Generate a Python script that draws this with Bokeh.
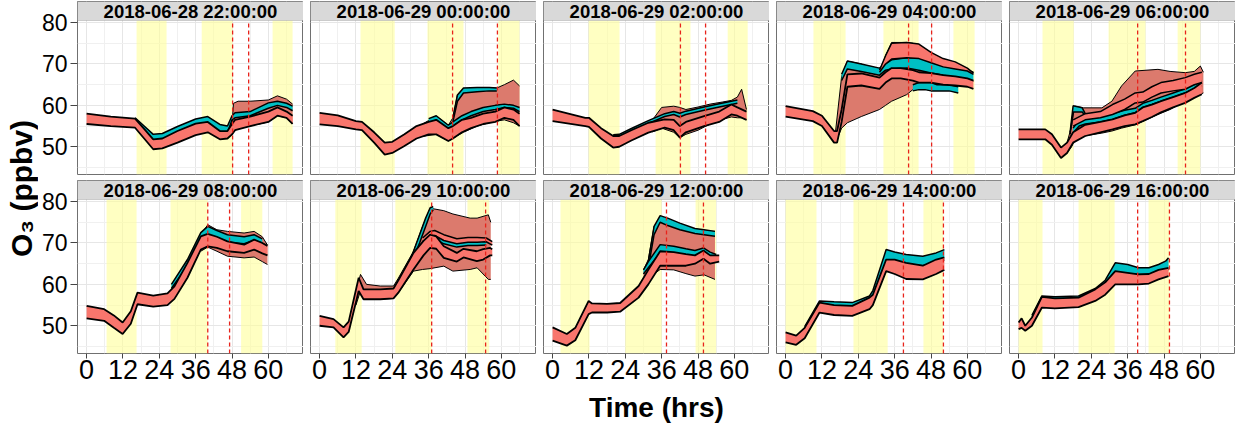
import numpy as np
from bokeh.plotting import figure
from bokeh.models import Range1d, FixedTicker, BoxAnnotation, Label
from bokeh.layouts import row, column
from bokeh.core.properties import value
from bokeh.embed import file_html
from bokeh.resources import INLINE

# ---------------- data ----------------
TITLES = ["2018-06-28 22:00:00", "2018-06-29 00:00:00", "2018-06-29 02:00:00",
          "2018-06-29 04:00:00", "2018-06-29 06:00:00", "2018-06-29 08:00:00",
          "2018-06-29 10:00:00", "2018-06-29 12:00:00", "2018-06-29 14:00:00",
          "2018-06-29 16:00:00"]

X_TICKS = [0, 12, 24, 36, 48, 60]
X_MINOR = [6, 18, 30, 42, 54, 66]
Y_TICKS = [50, 60, 70, 80]
Y_MINOR = [45, 55, 65, 75]

# shaded (yellow) intervals, hours
SHADE_START = [[16.5, 38, 61.4], [13.5, 35.6, 59], [11.9, 34, 57.8], [9.2, 32.3, 55.4],
               [7.9, 29.7, 52.5], [6.6, 27.7, 51], [5.2, 25, 48.8], [2.6, 24, 47.2],
               [0, 22.4, 45.5], [0, 19.8, 42.9]]
SHADE_END = [[26.4, 48.2, 68], [24.8, 47.5, 66], [22.1, 45.5, 64.4], [19.8, 43.9, 62.4],
             [18.2, 41.9, 60], [16.5, 40, 58], [13.9, 37, 56], [12.2, 36, 54],
             [10.2, 33.7, 52], [7.9, 31.7, 49.8]]

# red dashed markers, hours
DASH_X = [[48.2, 53.5], [43.9, 58.7], [42.2, 50.5], [40.6, 48.2], [39.3, 55.1],
          [40, 47.2], [37, 54.8], [37.6, 49.8], [38.9, 52.1], [39.3, 49.8]]

# main salmon band
SAL_X = [
    [0, 8, 16, 19, 22, 25, 30, 36, 40, 44, 46.5, 48, 49, 54, 60, 63, 66, 68],
    [0, 6, 12, 14, 18, 21.5, 24, 28, 32, 36, 38.5, 42.5, 44, 47, 50, 54, 58, 61, 64, 66],
    [0, 10.8, 12, 16, 20, 22, 26, 31.6, 37, 40, 42, 44, 50, 55, 59, 61, 64],
    [0, 9, 12, 16, 17, 18.5, 20.4, 25, 31, 33, 35, 38, 42, 44, 48, 52, 56, 60, 62],
    [0, 8.8, 11, 14, 16, 18, 22, 27, 31, 35, 38.5, 41, 44, 47, 51, 55, 58, 60.5],
    [0, 5.8, 9, 11.9, 14.6, 16.8, 22, 26.7, 29, 33.3, 37.7, 40, 43, 46.5, 52, 55.3, 58, 59.7],
    [0, 4.6, 7.9, 9.6, 12.9, 14.5, 20, 24.4, 26, 31, 34.3, 36.5, 38.5, 41, 45.3, 47.5, 51.9, 54, 56.3, 57],
    [0, 4.7, 7.5, 11.9, 13, 18, 22.3, 28.4, 31.6, 35.5, 40, 44, 47, 49.8, 52, 55],
    [0, 3.5, 6.3, 11.2, 16, 22, 27.7, 28.8, 33.2, 36, 39.8, 45.3, 49.7, 52.4],
    [0, 1, 2.2, 4.4, 7.7, 12, 19.8, 25.3, 28.6, 31.9, 36, 39.6, 43, 46.2, 49.5],
]
SAL_LO = [
    [55.5, 55, 54.6, 52, 49.4, 49.6, 51, 52.8, 53.5, 51.8, 52, 53, 54, 55, 56, 57.5, 57, 55.5],
    [55.4, 55, 54.2, 54, 51, 48.1, 48.5, 50.2, 52, 53, 53, 51.4, 52, 53.5, 54.5, 55.5, 56, 57, 56.5, 55],
    [56.2, 55, 54.8, 52, 49.8, 50, 51.5, 53.4, 54.6, 54, 52.2, 53.5, 55, 56, 57.8, 57.5, 56.5],
    [57.3, 56.2, 55, 51, 51, 56, 64.5, 64.8, 64, 65.5, 66.5, 66.5, 66, 65.5, 65.5, 65, 64.8, 64.5, 64],
    [51.8, 51.8, 50.5, 47.3, 48.5, 51, 52.6, 53.5, 54.2, 55, 55.4, 56.2, 57.2, 58.3, 59.5, 60.6, 61.8, 62.7],
    [51.8, 51.2, 49.5, 48, 50.5, 55.2, 54.6, 55, 56.5, 61.6, 68.4, 69.2, 68.8, 68, 67.6, 68.4, 67.5, 67],
    [50, 49.6, 47.2, 48.5, 58.4, 56.4, 56.4, 56.6, 58, 63.6, 67, 68.8, 68.6, 66.4, 65.5, 66.5, 65.6, 66, 67, 67],
    [46.4, 45.2, 46.5, 52.8, 53.2, 53.2, 53.4, 56.8, 60, 64.5, 64.5, 64.5, 65, 66.2, 65, 65.5],
    [46, 45.4, 47, 53.2, 52.6, 52.4, 54, 55, 63.2, 62.5, 61.3, 61.2, 62.5, 63.5],
    [49.2, 49.5, 48.8, 50, 54.4, 54.2, 54.5, 56, 57.5, 60, 60, 60, 60.2, 61.2, 62],
]
SAL_HI = [
    [58, 57.3, 56.8, 54.3, 51.8, 52, 53.8, 55.6, 56, 53.8, 53.8, 55.5, 56.5, 57.3, 58.5, 59.5, 58.5, 57.5],
    [58.2, 57.6, 56.2, 56, 53.5, 51, 51.2, 53, 55, 56, 56.5, 54.5, 55, 56.5, 57, 58, 58.5, 59.5, 59, 58],
    [59, 57, 57, 54.5, 52.6, 52.6, 54, 55.8, 56.6, 56.5, 55, 56, 57.4, 58.5, 60.2, 59.5, 58.5],
    [59.8, 58.6, 57.5, 53.8, 53.8, 59, 67.5, 67.7, 66.7, 68, 69, 69, 68.5, 68, 67.8, 67.3, 67, 66.5, 66],
    [54.2, 54.2, 53, 49.8, 51, 53.5, 55.3, 56, 56.6, 57.6, 58.2, 59.5, 60.2, 61, 62, 63, 64.2, 65.5],
    [54.8, 54, 52.5, 50.8, 53.5, 58, 57.3, 57.8, 59.5, 65.2, 71.6, 72.2, 71.5, 70.4, 69.6, 70.8, 70, 69.3],
    [52.4, 51.6, 49.6, 51, 61.6, 58.8, 58.8, 59, 61, 67.6, 70.5, 72, 71.6, 69.2, 67.6, 68.6, 68, 68.5, 68.8, 68.5],
    [49.6, 48, 49.5, 56, 55.4, 55.3, 55.5, 59.6, 63.5, 68, 67.8, 67.3, 67, 68.2, 67, 67],
    [48.4, 47.6, 49.5, 55.6, 55, 54.8, 56.8, 57.5, 66, 66, 65.2, 64.5, 66, 66.5],
    [50.8, 51.8, 50, 52, 57, 56.6, 56.8, 58.8, 60.5, 63.2, 62.8, 62.4, 62.5, 63.5, 64],
]

# main teal band
TEAL_X = [
    [16, 19, 22, 25, 30, 36, 40, 44, 46.5, 48, 49, 54, 60, 63, 66, 68],
    [36, 38.5, 42.5, 44, 47, 50, 54, 58, 61, 64, 66],
    [20, 22, 26, 31.6, 37, 40, 42, 44, 50, 55, 59, 61],
    [18.5, 20.4, 25, 31, 33, 35, 40, 44, 48, 52, 56, 60, 62],
    [18, 20, 22, 27, 31, 35, 38.5, 41, 44, 47, 51, 55, 58, 60.5],
    [28, 33.3, 37.7, 40, 43, 46.5, 52, 55.3, 58],
    [34, 36.5, 38, 41, 45.3, 49, 52, 55],
    [30, 31.6, 35.5, 40, 44, 47, 49.8, 52, 54],
    [6.3, 11.2, 16, 22, 27.7, 28.8, 33.2, 36, 39.8, 45.3, 49.7, 52.4],
    [4.4, 7.7, 12, 19.8, 25.3, 28.6, 31.9, 36, 39.6, 43, 46.2, 48.5, 49.5],
]
TEAL_LO = [
    [56.3, 53.8, 51.3, 51.5, 53.3, 55, 55.5, 53.3, 53.3, 56.5, 57, 57.5, 59.3, 60, 59.5, 58.7],
    [55.5, 56.5, 54, 55, 56.5, 57.5, 58.5, 59, 59.5, 59.3, 58.5],
    [52.3, 52.4, 53.8, 55.6, 57.3, 57.8, 57.2, 57.8, 58.8, 59.6, 60.2, 60.5],
    [66, 68.8, 68.2, 67.3, 68.5, 68.8, 69, 68.5, 67.8, 67.3, 66.8, 66.3, 65.8],
    [53.3, 55, 55.5, 56, 56.6, 57.6, 58.2, 59.5, 60.2, 61, 62, 63, 64, 64.8],
    [59, 64.5, 70.5, 71.8, 71.2, 70.2, 69.8, 70.6, 70],
    [69.5, 70.8, 71, 69.8, 69, 69.4, 69.4, 69.5],
    [62.5, 64, 67.6, 67.5, 67, 66.8, 67.5, 66.6, 66],
    [48, 54.8, 54.6, 54.4, 56, 57, 65.5, 65.3, 64.8, 64.5, 65.5, 65.8],
    [51.5, 56.4, 56, 56.3, 58, 60, 62.8, 62.6, 62.4, 62.4, 63.2, 63.8, 63.5],
]
TEAL_HI = [
    [57, 55, 53, 53.2, 54.9, 56.7, 57.3, 55.4, 55, 57.5, 58.2, 58.5, 60.6, 61, 60.5, 59.8],
    [56.8, 57.5, 55.2, 56, 57.5, 58.5, 59.5, 60, 60.3, 60, 59.5],
    [52.9, 53, 54.4, 56.3, 58, 58.5, 58.1, 58.6, 59.6, 60.4, 61, 61.3],
    [67.5, 70.7, 70, 69, 70, 71, 71.5, 71.5, 70.5, 69.5, 69, 68.5, 68],
    [54.5, 56.5, 57, 57.4, 58, 58.8, 59.3, 60.5, 61.2, 62, 63, 64, 65, 66],
    [60, 66, 72.5, 74, 73, 72, 71.5, 72, 71],
    [70.4, 71.8, 72, 70.8, 70, 70.4, 70.4, 70.4],
    [63.5, 65.5, 69.6, 69.2, 68.6, 68.2, 68.8, 67.8, 67.2],
    [49.8, 56, 55.8, 55.6, 57.2, 58.5, 68.4, 67.8, 67.2, 66.8, 67.6, 68.4],
    [52.5, 57.2, 57, 57.2, 59, 61, 65.2, 64.8, 64, 64, 64.8, 65.6, 66.4],
]

# second teal band (empty where absent)
TEAL2_X = [[], [44, 45.5, 47.5, 52, 56, 58.5], [], [42, 44, 46, 48, 50, 54, 57],
           [17, 18, 21, 22], [], [30, 33, 35, 36.5, 37.5],
           [31.6, 33.5, 35.5, 38, 42, 47, 50, 53.6], [], []]
TEAL2_LO = [[], [56, 61, 63, 63.3, 63.5, 63.5], [], [63.5, 63.8, 63.8, 63.5, 63.5, 63.5, 63],
            [53, 58.4, 58.4, 57.5], [], [64.5, 70, 74, 77, 78],
            [64, 72, 75, 74.2, 73.2, 72.3, 72, 71.6], [], []]
TEAL2_HI = [[], [57, 62.5, 64.2, 64.3, 64.3, 64.2], [], [65, 65.5, 65.5, 65.5, 65, 65, 64.5],
            [53.5, 59.9, 59.4, 58], [], [66, 72, 76, 78.5, 78.8],
            [65.5, 74, 76.6, 76, 74.8, 73.5, 73.2, 72.8], [], []]

# second salmon band
SAL2_X = [[], [], [], [31, 33, 35, 40, 44, 48, 52, 56, 60, 62],
          [18, 22, 27, 31, 35, 38.5, 41, 44, 47, 51, 55, 58, 60.5], [],
          [34, 36.5, 38, 41, 45.3, 49, 52, 55, 57], [], [], []]
SAL2_LO = [[], [], [], [68, 70, 71.2, 71.5, 71.3, 70.3, 69.3, 68.8, 68.3, 67.5],
           [55, 56.5, 57, 57.8, 59, 60.6, 60.8, 62, 63, 63.5, 63.9, 65, 65.5], [],
           [70.2, 71.6, 71.8, 70.6, 69.8, 70.2, 70.2, 70.3, 69.5], [], [], []]
SAL2_HI = [[], [], [], [68.5, 72, 75, 75.2, 74.8, 72.8, 71.3, 70.5, 69, 67.8],
           [56.5, 58, 58.5, 60.2, 61.5, 63, 63.2, 64.5, 65.5, 66, 66.7, 67.5, 68], [],
           [71.2, 72.8, 73, 72, 71, 71.3, 71.3, 71.2, 70.3], [], [], []]

# spread envelope
ENV_X = [
    [46.5, 48, 48.5, 50, 54, 60, 63, 66, 68],
    [34, 38.5, 42.5, 44, 45.5, 47.5, 52, 56, 58.5, 61, 64, 66],
    [33, 36, 40, 42, 44, 48, 52, 56, 59, 61, 62.4, 64],
    [16.5, 18.5, 20.4, 25, 31, 33, 35, 40, 42, 48],
    [16, 17.5, 18.5, 21.5, 27.5, 30.8, 34, 38.5, 46, 50, 55, 58, 60, 61],
    [37.7, 40, 43, 46.5, 52, 55.3, 58, 59.7],
    [12, 13.5, 15.5, 20, 24.4, 26, 31, 34, 36.5, 41, 44, 49.7, 52, 55.7, 56.5],
    [30, 31.6, 33.5, 35.5, 40, 44, 47, 50, 53.6],
    [], [],
]
ENV_LO = [
    [52, 53, 53.5, 54.5, 55, 56, 57.5, 57, 55.5],
    [52.5, 53, 51.4, 52, 52.7, 53.5, 55, 55.8, 56.2, 56.5, 55.8, 55],
    [53.6, 54.5, 53.5, 52.2, 53, 54, 55.5, 56.6, 57.2, 57, 57, 56.5],
    [51, 54.5, 55.8, 57.3, 59, 60, 61, 62.6, 63.8, 64],
    [48.5, 50, 51.5, 52.6, 53.3, 53.8, 54.5, 55.3, 57.8, 59, 61, 62, 62.7, 63],
    [68, 69, 68, 66.8, 66.4, 66.6, 65.5, 64.8],
    [55, 58.4, 56.4, 56.4, 56.6, 58, 63.2, 63.6, 63.8, 64.4, 63.2, 63.6, 64, 61.2, 61.2],
    [60, 61.5, 62.5, 63.6, 63.5, 62.6, 62, 62.3, 61.2],
    [], [],
]
ENV_HI = [
    [53.8, 55.5, 60.5, 61, 61, 61.3, 62.3, 61.5, 60.3],
    [55.5, 57.4, 55.2, 57, 62.5, 64, 64.2, 64.2, 64.2, 65, 66.1, 64.7],
    [56.5, 59.5, 59.8, 59.5, 59, 59.6, 60.3, 60.8, 61.2, 62, 63.9, 59],
    [53.8, 67, 70.7, 70, 68, 72, 75.2, 75.2, 75, 72.8],
    [51, 55, 59.8, 59.4, 59.4, 61, 64.7, 68.3, 68.7, 68.2, 67.9, 68.2, 69.5, 68],
    [72, 74.4, 73.2, 72.8, 72.4, 72.8, 71.5, 69.5],
    [58, 62.4, 60, 59.6, 59.6, 61.5, 68, 74, 78.4, 77.8, 77, 76, 76, 76.8, 75],
    [63.5, 66, 74, 76, 75, 74, 73.2, 73, 72.8],
    [], [],
]

# ---------------- style / layout ----------------
FONT = "Liberation Sans"
SALMON = "#F8766D"
TEAL = "#00BFC4"
ENVC = "#DC7A6D"
YELLOW = "#FFFF99"
XR = (-3.0, 71.6)
YR = (43.3, 80.5)
FW, FH = 226, 154          # panel frame (px)
SH = 19                    # strip height (px)
YLAB_W = 38
LEFT0 = 37
GAP = 7
# the strip sits inside the top of each frame; extend the y range by SH pixels
Y_TOP = YR[1] + SH * (YR[1] - YR[0]) / FH


def ribbon(p, xs, lo, hi, color, lw):
    if len(xs) == 0:
        return
    p.varea(x=xs, y1=lo, y2=hi, fill_color=color, fill_alpha=1.0)
    p.line(xs, lo, line_color="black", line_width=lw)
    p.line(xs, hi, line_color="black", line_width=lw)


def make_panel(i):
    r, col = divmod(i, 5)
    bottom = r == 1
    left = col == 0
    p = figure(frame_width=FW, frame_height=FH + SH,
               x_range=Range1d(*XR), y_range=Range1d(YR[0], Y_TOP),
               output_backend="svg", toolbar_location=None,
               x_axis_location="below" if bottom else None,
               y_axis_location="left" if left else None,
               min_border_left=LEFT0 if left else GAP, min_border_right=0,
               min_border_top=1, min_border_bottom=57 if bottom else 5,
               background_fill_color="white", border_fill_color="white",
               outline_line_color="#707070", outline_line_width=1)
    p.xgrid.ticker = FixedTicker(ticks=X_TICKS, minor_ticks=X_MINOR)
    p.ygrid.ticker = FixedTicker(ticks=Y_TICKS, minor_ticks=Y_MINOR)
    p.grid.grid_line_color = "#E6E6E6"
    p.grid.grid_line_width = 1
    p.grid.minor_grid_line_color = "#F0F0F0"
    p.grid.minor_grid_line_width = 1

    if bottom:
        ax = p.xaxis[0]
        ax.ticker = FixedTicker(ticks=X_TICKS)
        ax.major_label_text_font = FONT
        ax.major_label_text_font_size = "27px"
        ax.major_label_text_color = "black"
        ax.axis_line_color = None
        ax.major_tick_line_color = "#444444"
        ax.major_tick_out = 5
        ax.major_tick_in = 0
        ax.minor_tick_line_color = None
        ax.major_label_standoff = 1
        if col == 2:
            ax.axis_label = "Time (hrs)"
            ax.axis_label_text_font = FONT
            ax.axis_label_text_font_style = "bold"
            ax.axis_label_text_font_size = "28px"
            ax.axis_label_text_color = "black"
            ax.axis_label_standoff = 10
    if left:
        ay = p.yaxis[0]
        ay.ticker = FixedTicker(ticks=Y_TICKS)
        ay.major_label_text_font = FONT
        ay.major_label_text_font_size = "23px"
        ay.major_label_text_color = "black"
        ay.axis_line_color = None
        ay.major_tick_line_color = "#444444"
        ay.major_tick_out = 7
        ay.major_tick_in = 0
        ay.minor_tick_line_color = None
        ay.major_label_standoff = 3

    for a, b in zip(SHADE_START[i], SHADE_END[i]):
        p.add_layout(BoxAnnotation(left=a, right=b, top=YR[1], fill_color=YELLOW,
                                   fill_alpha=0.6, line_color=None, level="underlay"))

    ribbon(p, ENV_X[i], ENV_LO[i], ENV_HI[i], ENVC, 1.0)
    ribbon(p, TEAL2_X[i], TEAL2_LO[i], TEAL2_HI[i], TEAL, 1.5)
    ribbon(p, TEAL_X[i], TEAL_LO[i], TEAL_HI[i], TEAL, 1.5)
    ribbon(p, SAL2_X[i], SAL2_LO[i], SAL2_HI[i], SALMON, 1.5)
    ribbon(p, SAL_X[i], SAL_LO[i], SAL_HI[i], SALMON, 1.8)

    n = len(DASH_X[i])
    p.segment(x0=DASH_X[i], y0=[YR[0]] * n, x1=DASH_X[i], y1=[YR[1]] * n,
              line_color="#E8231B", line_dash="4 3", line_width=1.3)

    # facet strip
    p.add_layout(BoxAnnotation(bottom=YR[1], fill_color="#D9D9D9", fill_alpha=1.0,
                               line_color="#7F7F7F", line_width=1))
    p.add_layout(Label(x=(XR[0] + XR[1]) / 2, y=(YR[1] + Y_TOP) / 2, text=TITLES[i],
                       text_align="center", text_baseline="middle",
                       text_font=FONT, text_font_style="bold",
                       text_font_size="18.5px", text_color="black"))
    return p


panels = [make_panel(i) for i in range(10)]
grid = column(row(*panels[:5]), row(*panels[5:]))

ylab = figure(width=YLAB_W, height=376, x_range=Range1d(0, 1), y_range=Range1d(0, 1),
              output_backend="svg", toolbar_location=None,
              x_axis_location=None, y_axis_location=None, min_border=0,
              outline_line_color=None, background_fill_color="white")
ylab.grid.visible = False
ylab.text(x=[0.55], y=[0.5], text=["O\u2083 (ppbv)"], angle=np.pi / 2,
          text_align="center", text_baseline="middle", text_font=value(FONT),
          text_font_style="bold", text_font_size="30px", text_color="black")

layout = row(ylab, grid)

open("out.html", "w").write(file_html(layout, INLINE))
